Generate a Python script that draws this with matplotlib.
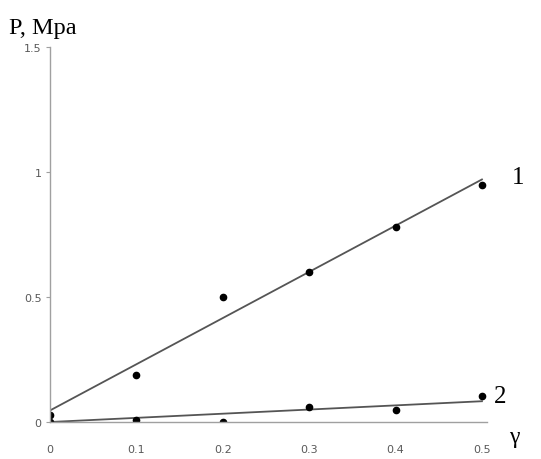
import numpy as np
import matplotlib.pyplot as plt

# data
gamma = [0.0, 0.1, 0.2, 0.3, 0.4, 0.5]
p_curve1 = [0.03, 0.19, 0.50, 0.60, 0.78, 0.95]
p_curve2 = [0.00, 0.01, 0.00, 0.06, 0.05, 0.105]
x_ticks = [0, 0.1, 0.2, 0.3, 0.4, 0.5]
x_tick_labels = ['0', '0.1', '0.2', '0.3', '0.4', '0.5']
y_ticks = [0, 0.5, 1, 1.5]
y_tick_labels = ['0', '0.5', '1', '1.5']

x = np.array(gamma)
y1 = np.array(p_curve1)
y2 = np.array(p_curve2)

# linear trend lines
k1, b1 = np.polyfit(x, y1, 1)
k2 = np.sum(x * y2) / np.sum(x * x)  # through origin

fig = plt.figure(figsize=(5.41, 4.6), dpi=100)
ax = fig.add_axes([0.0924, 0.0804, 0.808, 0.815])

ax.plot(x, k1 * x + b1, color='#555555', lw=1.3)
ax.plot(x, k2 * x, color='#555555', lw=1.3)
ax.plot(x, y1, 'o', color='black', ms=4.5)
ax.plot(x, y2, 'o', color='black', ms=4.5)

ax.set_xlim(0, 0.506)
ax.set_ylim(0, 1.5)
ax.set_xticks(x_ticks)
ax.set_xticklabels(x_tick_labels)
ax.set_yticks(y_ticks)
ax.set_yticklabels(y_tick_labels)

for s in ['top', 'right']:
    ax.spines[s].set_visible(False)
for s in ['left', 'bottom']:
    ax.spines[s].set_color('#a0a0a0')
    ax.spines[s].set_linewidth(1.0)

ax.tick_params(axis='x', length=0, pad=16, labelsize=8, labelcolor='#595959')
ax.tick_params(axis='y', length=3, width=0.8, color='#a0a0a0', pad=3,
               labelsize=8, labelcolor='#595959')

serif = ['Liberation Serif', 'DejaVu Serif']
fig.text(0.016, 0.927, 'P, Mpa', family=serif, fontsize=17.5)
fig.text(0.94, 0.038, 'γ', family=serif, fontsize=17)
ax.text(0.535, 0.98, '1', family=serif, fontsize=18, va='center')
ax.text(0.514, 0.105, '2', family=serif, fontsize=18, va='center')

fig.savefig('out.png', dpi=100)
